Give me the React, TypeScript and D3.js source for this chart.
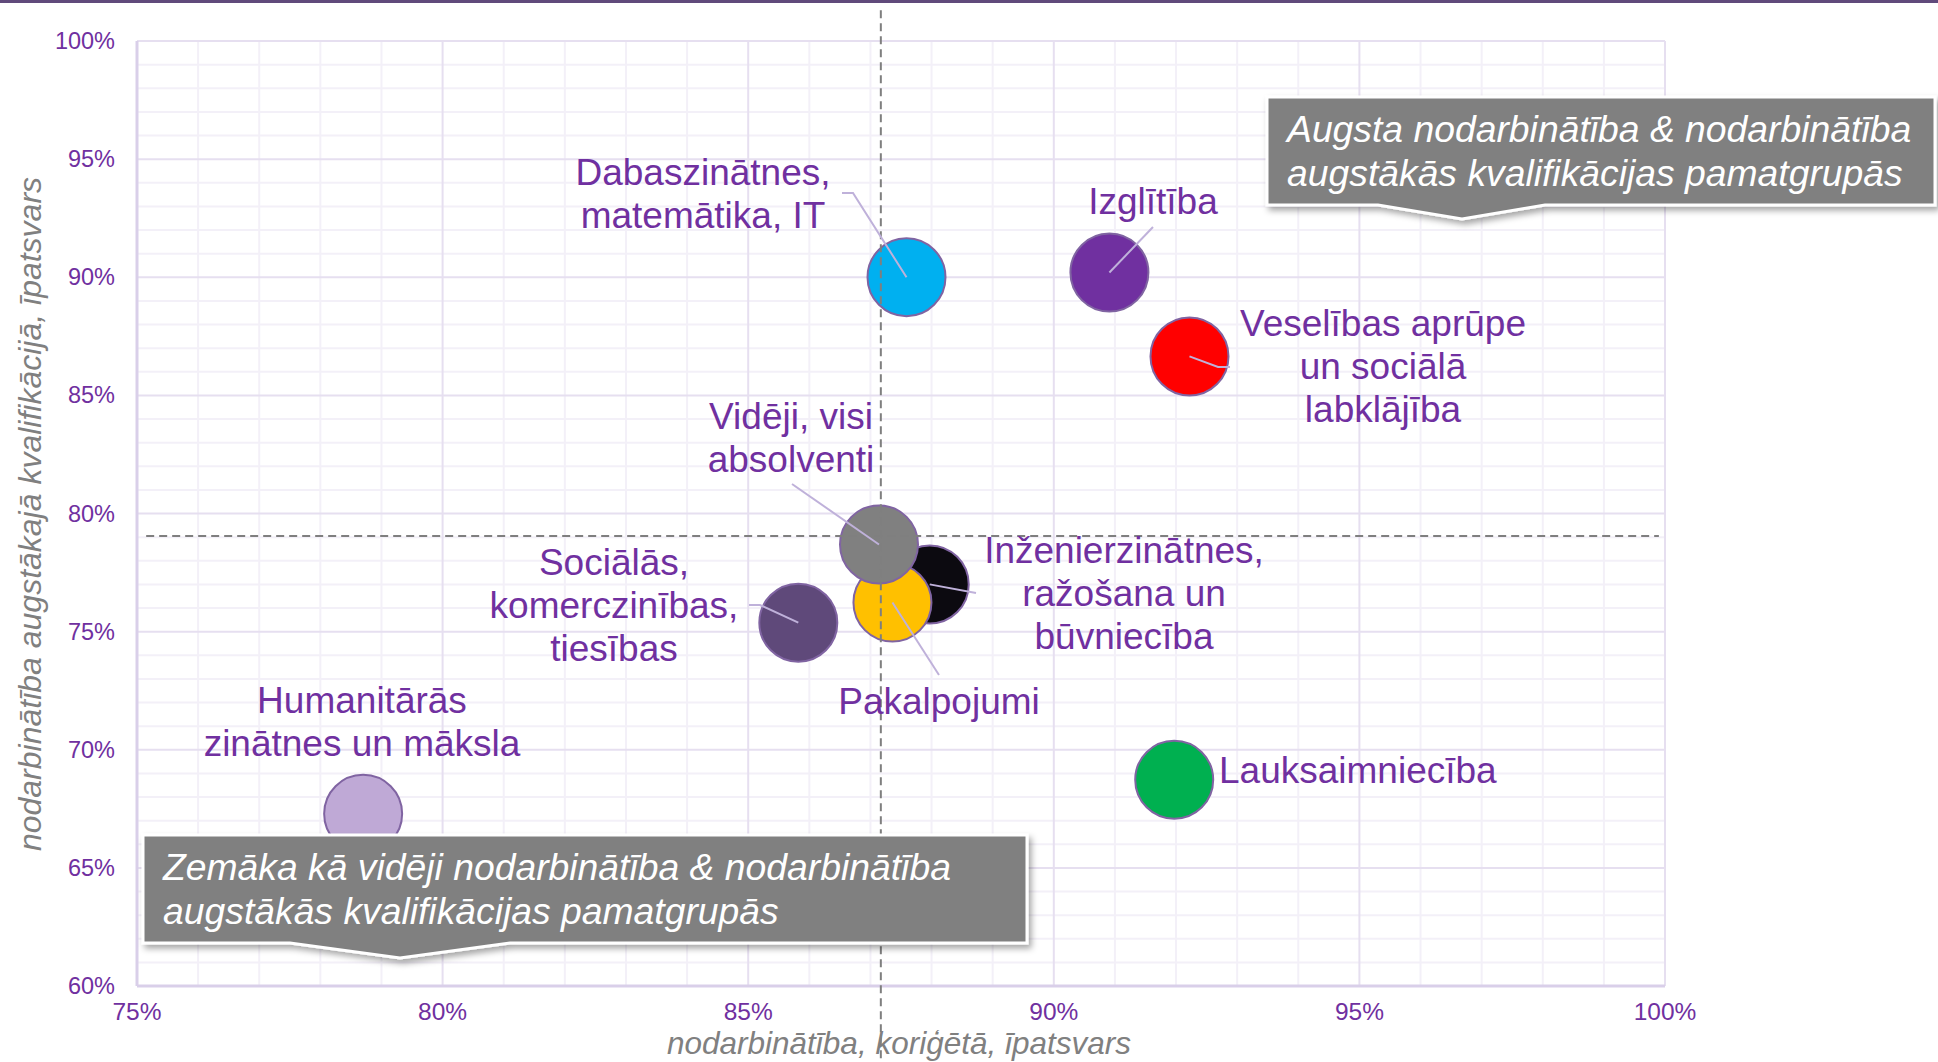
import React, { useEffect, useRef } from "react";
import * as d3 from "d3";

// bubble data (share of employed, share employed in high-skill jobs)
const names = [
  "Dabaszinātnes",
  "Izglītība",
  "Veselības aprūpe",
  "Inženierzinātnes",
  "Pakalpojumi",
  "Vidēji",
  "Sociālās",
  "Humanitārās",
  "Lauksaimniecība",
];
const employment = [0.8759, 0.9091, 0.9222, 0.8797, 0.8736, 0.8714, 0.8582, 0.787, 0.9197];
const highSkill = [0.9, 0.902, 0.8665, 0.77, 0.7623, 0.7869, 0.7538, 0.6729, 0.6873];
const colors = ["#00b0f0", "#7030a0", "#ff0000", "#0c0a10", "#ffc000", "#808080", "#5f497a", "#bfa9d6", "#00b050"];
const labelLines = [
  ["Dabaszinātnes,", "matemātika, IT"],
  ["Izglītība"],
  ["Veselības aprūpe", "un sociālā", "labklājība"],
  ["Inženierzinātnes,", "ražošana un", "būvniecība"],
  ["Pakalpojumi"],
  ["Vidēji, visi", "absolventi"],
  ["Sociālās,", "komerczinības,", "tiesības"],
  ["Humanitārās", "zinātnes un māksla"],
  ["Lauksaimniecība"],
];

// average reference lines
const avgEmployment = 0.8717;
const avgHighSkill = 0.7905;

const xTicks = [0.75, 0.8, 0.85, 0.9, 0.95, 1.0];
const yTicks = [0.6, 0.65, 0.7, 0.75, 0.8, 0.85, 0.9, 0.95, 1.0];

const xTitle = "nodarbinātība, koriģētā, īpatsvars";
const yTitle = "nodarbinātība augstākajā kvalifikācijā, īpatsvars";
const boxHigh = ["Augsta nodarbinātība & nodarbinātība", "augstākās kvalifikācijas pamatgrupās"];
const boxLow = ["Zemāka kā vidēji nodarbinātība & nodarbinātība", "augstākās kvalifikācijas pamatgrupās"];

// label layout (pixels): x, first baseline, anchor, leader points
const labelLayout = [
  { x: 703, y: 185, anchor: "middle", leader: [[842, 193], [853, 193]] },
  { x: 1153, y: 214, anchor: "middle", leader: [[1153, 227]] },
  { x: 1383, y: 336, anchor: "middle", leader: [[1230, 367], [1218, 367]] },
  { x: 1124, y: 563, anchor: "middle", leader: [[976, 593]] },
  { x: 939, y: 714, anchor: "middle", leader: [[939, 675]] },
  { x: 791, y: 429, anchor: "middle", leader: [[792, 484]] },
  { x: 614, y: 575, anchor: "middle", leader: [[749, 605], [760, 605]] },
  { x: 362, y: 713, anchor: "middle", leader: [] },
  { x: 1219, y: 783, anchor: "start", leader: [] },
];
// draw order so that grey sits over yellow over black
const drawOrder = [0, 1, 2, 6, 7, 8, 3, 4, 5];

const W = 1938,
  H = 1062;
const FONT = "'Liberation Sans', Arial, sans-serif";
const PURPLE = "#7030a0";

function App() {
  const ref = useRef<SVGSVGElement>(null);

  useEffect(() => {
    const svg = d3.select(ref.current);
    svg.selectAll("*").remove();

    const x = d3.scaleLinear().domain([0.75, 1.0]).range([137, 1665]);
    const y = d3.scaleLinear().domain([0.6, 1.0]).range([986, 41]);
    const r = 39;

    const defs = svg.append("defs");
    const f = defs.append("filter").attr("id", "shadow").attr("x", "-10%").attr("y", "-20%").attr("width", "120%").attr("height", "150%");
    f.append("feDropShadow").attr("dx", 3).attr("dy", 4).attr("stdDeviation", 3).attr("flood-color", "#000").attr("flood-opacity", 0.35);

    // top band
    svg.append("rect").attr("x", 0).attr("y", 0).attr("width", W).attr("height", 3).attr("fill", "#604a7b");

    const g = svg.append("g");

    // minor grid every 1%
    const minorX = d3.range(0, 26).map((i) => 0.75 + i * 0.01).filter((v) => Math.round(v * 100) % 5 !== 0);
    const minorY = d3.range(0, 41).map((i) => 0.6 + i * 0.01).filter((v) => Math.round(v * 100) % 5 !== 0);
    g.append("g").selectAll("line").data(minorX).join("line").attr("x1", (d) => x(d)).attr("x2", (d) => x(d)).attr("y1", y(1)).attr("y2", y(0.6)).attr("stroke", "#f3f0f8").attr("stroke-width", 2);
    g.append("g").selectAll("line").data(minorY).join("line").attr("x1", x(0.75)).attr("x2", x(1)).attr("y1", (d) => y(d)).attr("y2", (d) => y(d)).attr("stroke", "#f3f0f8").attr("stroke-width", 2);

    // major grid
    g.append("g").selectAll("line").data(xTicks).join("line").attr("x1", (d) => x(d)).attr("x2", (d) => x(d)).attr("y1", y(1)).attr("y2", y(0.6)).attr("stroke", "#e6dff0").attr("stroke-width", 2);
    g.append("g").selectAll("line").data(yTicks).join("line").attr("x1", x(0.75)).attr("x2", x(1)).attr("y1", (d) => y(d)).attr("y2", (d) => y(d)).attr("stroke", "#e6dff0").attr("stroke-width", 2);

    // axis lines
    g.append("line").attr("x1", x(0.75)).attr("x2", x(0.75)).attr("y1", y(1)).attr("y2", y(0.6)).attr("stroke", "#d9cfe9").attr("stroke-width", 3);
    g.append("line").attr("x1", x(0.75)).attr("x2", x(1)).attr("y1", y(0.6)).attr("y2", y(0.6)).attr("stroke", "#d9cfe9").attr("stroke-width", 3);

    // tick labels
    const fmt = d3.format(".0%");
    g.append("g").selectAll("text").data(yTicks).join("text").attr("x", 115).attr("y", (d) => y(d) + 8).attr("text-anchor", "end").attr("font-family", FONT).attr("font-size", 23.5).attr("fill", PURPLE).text((d) => fmt(d));
    g.append("g").selectAll("text").data(xTicks).join("text").attr("x", (d) => x(d)).attr("y", 1020).attr("text-anchor", "middle").attr("font-family", FONT).attr("font-size", 24.5).attr("fill", PURPLE).text((d) => fmt(d));

    // axis titles
    g.append("text").attr("x", 899).attr("y", 1054).attr("text-anchor", "middle").attr("font-family", FONT).attr("font-style", "italic").attr("font-size", 31.5).attr("fill", "#808080").text(xTitle);
    g.append("text").attr("transform", "translate(41,514) rotate(-90)").attr("text-anchor", "middle").attr("font-family", FONT).attr("font-style", "italic").attr("font-size", 32).attr("fill", "#808080").text(yTitle);

    // bubbles
    g.append("g")
      .selectAll("circle")
      .data(drawOrder)
      .join("circle")
      .attr("cx", (i) => x(employment[i]))
      .attr("cy", (i) => y(highSkill[i]))
      .attr("r", r)
      .attr("fill", (i) => colors[i])
      .attr("stroke", "#8064a2")
      .attr("stroke-width", 2);

    // average dashed lines
    g.append("line").attr("x1", x(avgEmployment)).attr("x2", x(avgEmployment)).attr("y1", y(1.013)).attr("y2", H).attr("stroke", "#7f7f7f").attr("stroke-width", 2).attr("stroke-dasharray", "8,5");
    g.append("line").attr("x1", x(0.7515)).attr("x2", x(0.999)).attr("y1", y(avgHighSkill)).attr("y2", y(avgHighSkill)).attr("stroke", "#7f7f7f").attr("stroke-width", 2).attr("stroke-dasharray", "8,5");

    // leader lines
    const line = d3.line();
    g.append("g")
      .selectAll("path")
      .data(names.map((_, i) => i).filter((i) => labelLayout[i].leader.length))
      .join("path")
      .attr("d", (i) => line([...(labelLayout[i].leader as [number, number][]), [x(employment[i]), y(highSkill[i])]]))
      .attr("fill", "none")
      .attr("stroke", "#bfb1da")
      .attr("stroke-width", 2);

    // labels
    const lbl = g.append("g").selectAll("text").data(names.map((_, i) => i)).join("text")
      .attr("font-family", FONT).attr("font-size", 37).attr("fill", PURPLE)
      .attr("text-anchor", (i) => labelLayout[i].anchor);
    lbl.each(function (i) {
      const t = d3.select(this);
      labelLines[i].forEach((s, k) => {
        t.append("tspan").attr("x", labelLayout[i].x).attr("y", labelLayout[i].y + k * 43).text(s);
      });
    });

    // callout boxes
    const callout = (x0: number, y0: number, x1: number, y1: number, p0: number, p1: number, tx: number, ty: number, lines: string[]) => {
      const b = g.append("g");
      b.append("path")
        .attr("d", `M${x0},${y0}H${x1}V${y1}H${p1}L${tx},${ty}L${p0},${y1}H${x0}Z`)
        .attr("fill", "#808080")
        .attr("stroke", "#ffffff")
        .attr("stroke-width", 3)
        .attr("filter", "url(#shadow)");
      lines.forEach((s, k) => {
        b.append("text").attr("x", x0 + 20).attr("y", y0 + 45 + k * 44).attr("font-family", FONT).attr("font-style", "italic").attr("font-size", 37.3).attr("fill", "#ffffff").text(s);
      });
    };
    callout(1267, 97, 1935, 205, 1378, 1545, 1462, 219, boxHigh);
    callout(143, 835, 1027, 943, 290, 510, 400, 958, boxLow);
  }, []);

  return (
    <div style={{ position: "absolute", left: 0, top: 0 }}>
      <svg ref={ref} width={W} height={H} style={{ display: "block", background: "#fff" }} />
    </div>
  );
}

export default App;
